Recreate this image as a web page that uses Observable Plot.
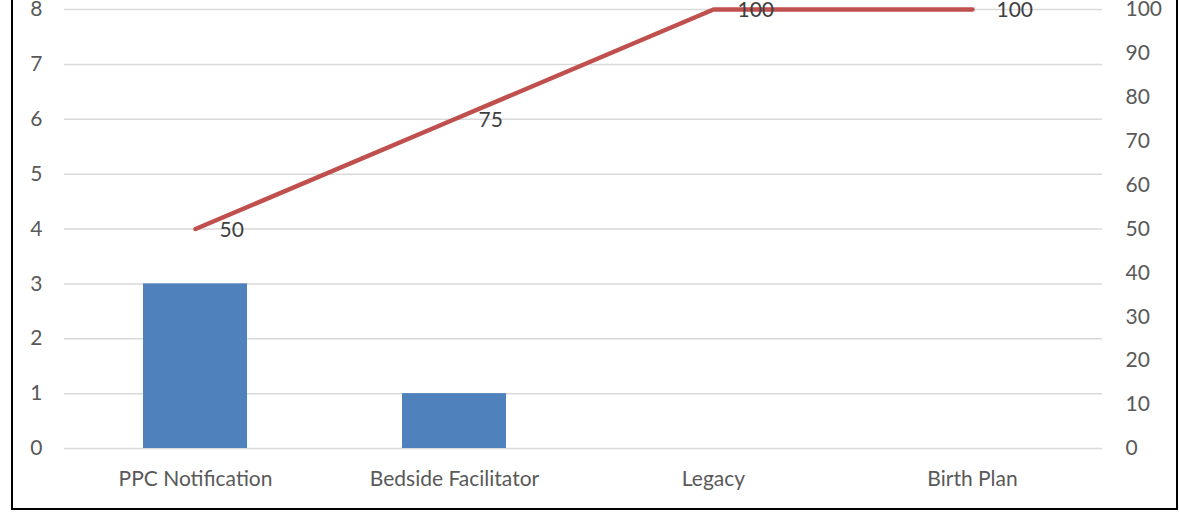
<!DOCTYPE html>
<html>
<head>
<meta charset="utf-8">
<script src="https://cdn.jsdelivr.net/npm/d3@7"></script>
<script src="https://cdn.jsdelivr.net/npm/@observablehq/plot@0.6"></script>
<style>
  html, body { margin: 0; padding: 0; background: #fff; overflow: hidden; }
  #wrap { position: relative; width: 1179px; height: 512px; overflow: hidden; }
  #frame { position: absolute; left: 11px; top: -10px; width: 1163px; height: 516px;
           border: 2px solid #000; pointer-events: none; }
  svg { display: block; overflow: visible; }
</style>
</head>
<body>
<div id="wrap"><div id="frame"></div></div>
<script>
// Reasons, count per reason, and cumulative percentage
const categories = ["PPC Notification", "Bedside Facilitator", "Legacy", "Birth Plan"];
const counts = [3, 1, 0, 0];
const cumulativePct = [50, 75, 100, 100];
const leftTicks = [0, 1, 2, 3, 4, 5, 6, 7, 8];
const rightTicks = [0, 10, 20, 30, 40, 50, 60, 70, 80, 90, 100];

const rows = categories.map((c, i) => ({category: c, count: counts[i], pct: cumulativePct[i]}));

// Secondary (percentage) axis mapped onto the primary count scale
const pctToCount = d3.scaleLinear([0, 100], [0, 8]);

const textColor = "#595959";
const font = "Lato, 'Open Sans', sans-serif";
const fs = 21;

const chart = Plot.plot({
  width: 1179,
  height: 512,
  marginLeft: 64,
  marginRight: 77,
  marginTop: 9,
  marginBottom: 64,
  style: {fontFamily: font, fontSize: fs + "px", color: textColor, background: "#fff"},
  x: {domain: categories, paddingInner: 0.6, paddingOuter: 0.3, label: null},
  y: {domain: [0, 8], label: null},
  marks: [
    Plot.gridY(leftTicks, {stroke: "#D9D9D9", strokeOpacity: 1, strokeWidth: 1.5}),
    Plot.axisX({tickSize: 0, tickPadding: 23, fontSize: fs, fill: textColor}),
    Plot.axisY(leftTicks, {anchor: "left", tickSize: 0, tickPadding: 22, fontSize: fs, fill: textColor,
      tickFormat: (d) => String(d)}),
    Plot.axisY(rightTicks.map(pctToCount), {
      anchor: "right", tickSize: 0, tickPadding: 23, fontSize: fs, fill: textColor,
      tickFormat: (d) => String(Math.round(pctToCount.invert(d)))
    }),
    Plot.barY(rows, {x: "category", y: "count", fill: "#4F81BD"}),
    Plot.line(rows, {x: "category", y: (d) => pctToCount(d.pct), stroke: "#C0504D",
      strokeWidth: 4.5, strokeLinecap: "round", strokeLinejoin: "round"}),
    Plot.text(rows, {x: "category", y: (d) => pctToCount(d.pct), text: (d) => String(d.pct),
      textAnchor: "start", dx: 24, dy: 1, fontSize: fs, fill: "#404040"})
  ]
});

document.getElementById("wrap").prepend(chart);
</script>
</body>
</html>
